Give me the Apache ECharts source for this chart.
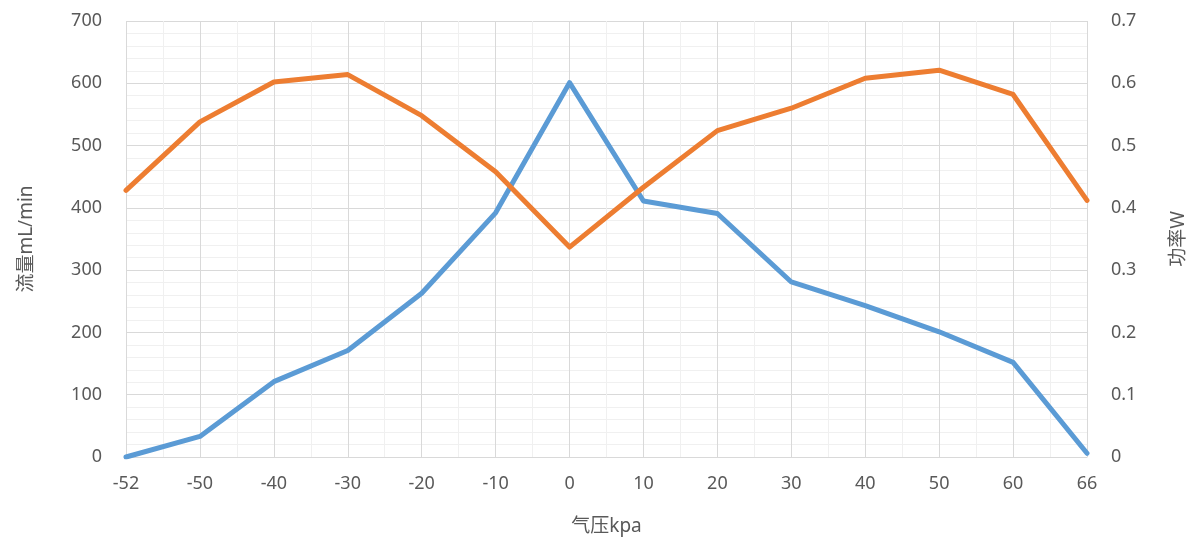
<!DOCTYPE html>
<html>
<head>
<meta charset="utf-8">
<script src="https://cdn.jsdelivr.net/npm/echarts@6/dist/echarts.min.js"></script>
<style>html,body{margin:0;padding:0;background:#fff}#c{width:1201px;height:541px}</style>
</head>
<body>
<div id="c"></div>
<script>
const categories = ['-52','-50','-40','-30','-20','-10','0','10','20','30','40','50','60','66'];
const flow = [0, 33, 121, 171, 263, 392, 601, 411, 391, 281, 243, 201, 152, 6];
const power = [0.428, 0.538, 0.602, 0.614, 0.548, 0.458, 0.337, 0.433, 0.524, 0.560, 0.608, 0.621, 0.582, 0.412];
const leftTicks = [0,100,200,300,400,500,600,700];
const rightTicks = [0,0.1,0.2,0.3,0.4,0.5,0.6,0.7];

const font = "'Noto Sans', 'Noto Sans CJK SC', sans-serif";
const chart = echarts.init(document.getElementById('c'));
chart.setOption({
  animation: false,
  textStyle: {fontFamily: font},
  grid: {left: 126, right: 114, top: 21, bottom: 83, containLabel: false},
  xAxis: {
    type: 'value', min: 0, max: categories.length - 1, interval: 1,
    name: '气压kpa', nameLocation: 'middle', nameGap: 60,
    nameTextStyle: {fontSize: 19, color: '#595959', fontFamily: font},
    axisLine: {show: true, lineStyle: {color: '#d9d9d9', width: 1}},
    axisTick: {show: false},
    axisLabel: {fontSize: 18, color: '#595959', margin: 18, formatter: v => categories[v] ?? ''},
    splitLine: {show: true, lineStyle: {color: '#d9d9d9', width: 1}},
    minorTick: {show: false, splitNumber: 2},
    minorSplitLine: {show: true, lineStyle: {color: '#f0f0f0', width: 1}}
  },
  yAxis: [{
    type: 'value', min: leftTicks[0], max: leftTicks[leftTicks.length-1], interval: 100,
    name: '流量mL/min', nameLocation: 'middle', nameGap: 90, nameRotate: 90,
    nameTextStyle: {fontSize: 19, color: '#595959', fontFamily: font},
    axisLine: {show: false}, axisTick: {show: false},
    axisLabel: {fontSize: 18, color: '#595959', margin: 24},
    splitLine: {show: true, lineStyle: {color: '#d9d9d9', width: 1}},
    minorTick: {show: false, splitNumber: 5},
    minorSplitLine: {show: true, lineStyle: {color: '#f0f0f0', width: 1}}
  }, {
    type: 'value', min: rightTicks[0], max: rightTicks[rightTicks.length-1], interval: 0.1,
    name: '功率W', nameLocation: 'middle', nameGap: 82, nameRotate: 90,
    nameTextStyle: {fontSize: 19, color: '#595959', fontFamily: font},
    axisLine: {show: false}, axisTick: {show: false},
    axisLabel: {fontSize: 18, color: '#595959', margin: 24, formatter: v => String(Math.round(v*10)/10)},
    splitLine: {show: false}
  }],
  series: [{
    type: 'line', name: '流量', yAxisIndex: 0,
    data: flow.map((v, i) => [i, v]),
    showSymbol: false, symbol: 'none',
    lineStyle: {color: '#5B9BD5', width: 5, cap: 'round', join: 'round'},
    itemStyle: {color: '#5B9BD5'}, z: 3
  }, {
    type: 'line', name: '功率', yAxisIndex: 1,
    data: power.map((v, i) => [i, v]),
    showSymbol: false, symbol: 'none',
    lineStyle: {color: '#ED7D31', width: 5, cap: 'round', join: 'round'},
    itemStyle: {color: '#ED7D31'}, z: 4
  }]
});
</script>
</body>
</html>
